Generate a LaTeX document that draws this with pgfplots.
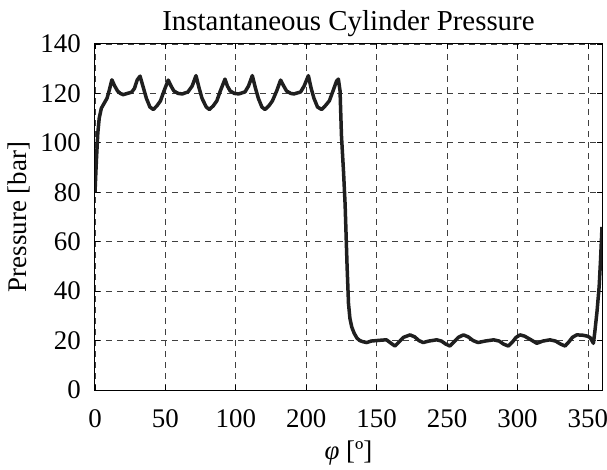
\documentclass[border=0pt]{standalone}
\usepackage{pgfplots}
\pgfplotsset{compat=1.18}
\usepackage{fontspec}
\setmainfont{Liberation Serif}
\begin{document}
\fontsize{27}{32}\selectfont
\begin{tikzpicture}
\begin{axis}[
  at={(0,0)}, anchor=south west,
  scale only axis, width=507bp, height=346bp,
  xmin=0, xmax=360, ymin=0, ymax=140,
  xtick={0,50,100,150,200,250,300,350},
  xticklabels={{0},{50},{100},{200},{150},{250},{300},{350}},
  ytick={0,20,40,60,80,100,120,140},
  /pgf/number format/assume math mode=true,
  tick label style={font=\fontsize{27}{32}\selectfont},
  label style={font=\fontsize{27}{32}\selectfont},
  title style={font=\fontsize{29}{34}\selectfont, yshift=-8bp},
  title={Instantaneous Cylinder Pressure},
  xlabel={\textit{φ} [º]},
  ylabel={Pressure [bar]},
  xlabel style={yshift=5bp},
  ylabel style={yshift=-8bp},
  xticklabel style={yshift=-10bp},
  tick align=inside, major tick length=5bp,
  tick style={black, line width=0.8bp},
  axis line style={black, line width=1bp},
  grid=major,
  major grid style={black!75, line width=0.8bp, dash pattern=on 6bp off 5bp},
  yticklabel style={xshift=-5bp},
]
\addplot[line width=3.5bp, color=black!88, line join=round] coordinates {
(0,80)(1,93)(2,104)(3,110)(4.5,114)(6.5,116)(8.5,118)(10,121)(12,125.5)(14,123)(16,121)(18,120)(20,119.5)(23,120)(26,120.5)(28,122)(30,125.5)(32,127)(34,123)(36.5,118)(39,114.5)(41.4,113.5)(44,115)(46.5,117)(49,121)(52,125.4)(54,123)(56,121)(59,120)(62,119.8)(66,120.6)(69,123)(71.7,127.2)(74,122)(76,118)(79,114.5)(81.2,113.5)(84,115)(86.5,117)(89,121)(92.3,125.8)(94,123)(96,121)(99,120)(102,119.8)(106.5,120.6)(109,123)(111.7,127.2)(114,122)(116,118)(118.5,114.5)(120.7,113.5)(123.5,115)(126,117)(129,121)(131.8,125.4)(134,123)(136,121)(139,120)(141.3,119.8)(146,120.6)(148.5,123)(151.5,127.2)(153.5,122)(155.5,118)(158,114.5)(160.9,113.5)(163.5,115)(166.4,117)(169,121)(171.5,125)(172.8,125.8)(174,121)(175,103)(176.5,88)(177.6,75)(179,50)(180,35)(181,29)(182.3,25.5)(184,23)(186,21)(188,20)(190.5,19.5)(193,19.2)(196,19.8)(200,20)(204,20.2)(207,20.3)(210,19)(213,17.8)(216,19.5)(219,21.3)(223.7,22.3)(227,21.5)(230,20)(233,19.2)(237,19.8)(242.6,20.3)(246,19.8)(249,18.6)(252,17.8)(255,19.5)(258,21.3)(261.6,22.3)(265,21.5)(268.5,20)(272,19.2)(277,19.8)(283,20.3)(287,19.8)(290,18.6)(293.5,17.8)(296.5,19.5)(299,21.3)(301.8,22.3)(305,21.8)(309,20.5)(313.7,18.9)(318,19.8)(323,20.3)(327,19.8)(330.5,18.6)(333.8,17.8)(336.5,19.5)(339,21.3)(342,22.3)(346,22.2)(349.5,21.8)(351.6,21.2)(353.9,18.9)(355,24)(356.5,32)(358,42)(359,53)(360,66)
};
\end{axis}
\pgfresetboundingbox
\path (-95bp,-80bp) rectangle (512bp,390bp);
\end{tikzpicture}
\end{document}
